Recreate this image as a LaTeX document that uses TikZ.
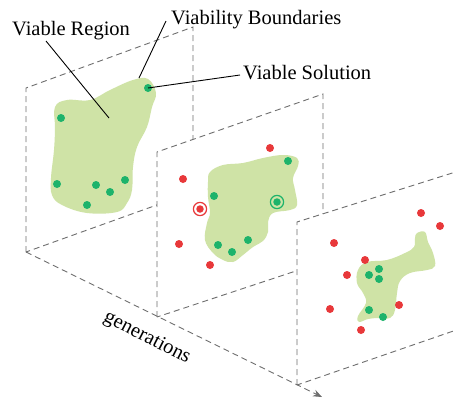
\documentclass[tikz,border=0pt]{standalone}
\usepackage{fontspec}
\setmainfont{Liberation Serif}
\usetikzlibrary{arrows.meta}
\definecolor{blobc}{HTML}{CFE3A6}
\definecolor{gdotc}{HTML}{1DB36B}
\definecolor{rdotc}{HTML}{E8383A}
\definecolor{edgec}{HTML}{6E6E6E}
\begin{document}
\begin{tikzpicture}[x=1pt,y=-1pt,
  panel/.style={draw=edgec, dash pattern=on 6pt off 4pt, line width=0.9pt, fill=white},
  gdot/.style={circle, fill=gdotc, inner sep=0pt, minimum size=8pt},
  rdot/.style={circle, fill=rdotc, inner sep=0pt, minimum size=8pt},
  lbl/.style={font=\fontsize{20.5}{24}\selectfont, inner sep=0pt},
  leader/.style={draw=black, line width=0.9pt},
  ringr/.style={draw=rdotc, line width=1.2pt},
  ringg/.style={draw=gdotc, line width=1.2pt}]
\useasboundingbox (0,0) rectangle (456,397);
\clip (0,0) rectangle (456,397);

% panel 1
\draw[panel] (26,252) -- (26,88) -- (193,27) -- (193,192) -- cycle;
\fill[blobc] plot[smooth cycle, tension=0.65] coordinates {
 (55,107) (67,100) (90,100) (110,90) (133,80) (148,79) (156,93) (152,107)
 (147,127) (137,147) (133,167) (132,190) (127,203) (117,212) (87,213)
 (62,205) (52,195) (51,178) (54,150) (55,128)};
\coordinate (regpt) at (109,118);
\coordinate (bndpt) at (139,78);
\node[gdot] (s1) at (148,88) {};
\node[gdot] (a2) at (61,118) {};
\node[gdot] (a3) at (57,184) {};
\node[gdot] (a4) at (96,185) {};
\node[gdot] (a5) at (110,192) {};
\node[gdot] (a6) at (125,180) {};
\node[gdot] (a7) at (87,205) {};

% panel 2
\draw[panel] (157,317) -- (157,152) -- (323,94) -- (323,262) -- cycle;
\fill[blobc] plot[smooth cycle, tension=0.65] coordinates {
 (210,172) (223,165) (243,163) (263,158) (283,155) (297,158) (298,166)
 (293,178) (295,190) (297,205) (290,210) (273,213) (268,222) (268,232)
 (263,241) (253,247) (243,255) (233,262) (223,260) (213,253) (205,240)
 (207,223) (210,213) (208,197) (208,182)};
\node[gdot] (b1) at (288,161) {};
\node[gdot] (b2) at (214,196) {};
\node[gdot] (b3) at (218,245) {};
\node[gdot] (b4) at (232,252) {};
\node[gdot] (b5) at (248,240) {};
\node[gdot, minimum size=7.5pt] (b6) at (277,202) {};
\draw[ringg] (b6.center) circle (6.6);
\node[rdot] (c1) at (270,148) {};
\node[rdot] (c2) at (183,179) {};
\node[rdot, minimum size=7.5pt] (c3) at (200,209) {};
\draw[ringr] (c3.center) circle (6.6);
\node[rdot] (c4) at (179,244) {};
\node[rdot] (c5) at (210,265) {};

% panel 3
\draw[panel] (297,385) -- (297,222) -- (465,169) -- (465,327) -- cycle;
\fill[blobc] plot[smooth cycle, tension=0.65] coordinates {
 (417,233) (425,232) (428,242) (433,253) (435,266) (427,270) (410,273)
 (400,281) (397,293) (395,310) (390,318) (378,318) (368,319) (359,322)
 (358,316) (366,303) (363,293) (357,283) (358,270) (367,262) (387,260)
 (405,253) (414,247) (415,238)};
\node[gdot] (d1) at (379,269) {};
\node[gdot] (d2) at (369,275) {};
\node[gdot] (d3) at (379,279) {};
\node[gdot] (d4) at (369,310) {};
\node[gdot] (d5) at (383,317) {};
\node[rdot] (e1) at (421,213) {};
\node[rdot] (e2) at (440,226) {};
\node[rdot] (e3) at (334,243) {};
\node[rdot] (e4) at (365,260) {};
\node[rdot] (e5) at (347,275) {};
\node[rdot] (e6) at (330,309) {};
\node[rdot] (e7) at (399,305) {};
\node[rdot] (e8) at (361,330) {};

% generations axis
\coordinate (ax0) at (26,252);
\coordinate (ax1) at (322,397);
\draw[draw=edgec, dash pattern=on 6pt off 4pt, line width=0.9pt,
  -{Stealth[length=9pt, width=7pt, fill=edgec]}] (ax0) -- (ax1);
\node[lbl, rotate=-27] (gen) at (147,338) {generations};

% labels
\node[lbl, anchor=base west] (lreg) at (12,35) {Viable Region};
\node[lbl, anchor=base west] (lbnd) at (171,24) {Viability Boundaries};
\node[lbl, anchor=base west] (lsol) at (243,79) {Viable Solution};
\coordinate (lregpt) at (46,41);
\coordinate (lbndpt) at (166,21);
\coordinate (lsolpt) at (240,75);
\draw[leader] (lregpt) -- (regpt);
\draw[leader] (lbndpt) -- (bndpt);
\draw[leader] (s1.center) -- (lsolpt);
\end{tikzpicture}
\end{document}
